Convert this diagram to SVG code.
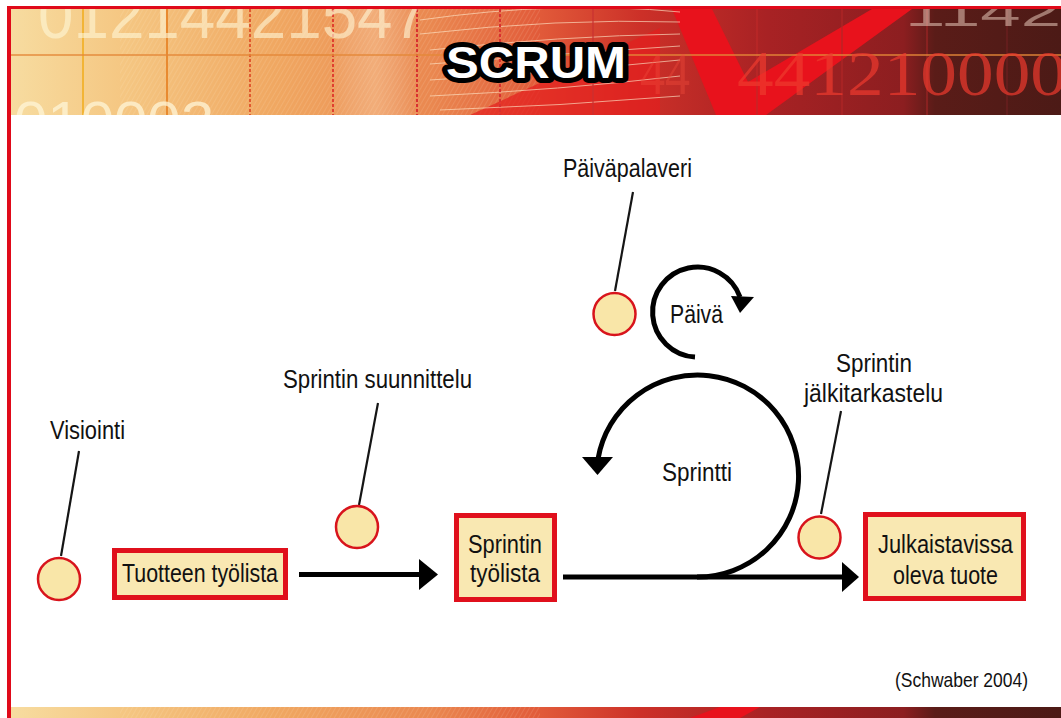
<svg xmlns="http://www.w3.org/2000/svg" width="1061" height="718" viewBox="0 0 1061 718">
  <defs>
    <style>
      .lbl { font-family: "Liberation Sans", Arial, sans-serif; font-size: 25px; fill: #111111; }
      .small { font-family: "Liberation Sans", Arial, sans-serif; font-size: 21px; fill: #111111; }
      .box { fill: #f9e8b2; stroke: #e0101c; stroke-width: 5; }
      .evt { fill: #f9e6a8; stroke: #d8141c; stroke-width: 2.5; }
      .lead { stroke: #151515; stroke-width: 2.2; fill: none; }
      .flow { stroke: #000; stroke-width: 5; fill: none; }
      .head { fill: #000; }
      .digits { font-family: "Liberation Sans", Arial, sans-serif; }
      .serifdigits { font-family: "Liberation Serif", "Times New Roman", serif; }
    </style>
    <linearGradient id="bannerGrad" x1="0" y1="0" x2="1" y2="0">
      <stop offset="0" stop-color="#f7dca0"/>
      <stop offset="0.1" stop-color="#f5c884"/>
      <stop offset="0.25" stop-color="#f0a862"/>
      <stop offset="0.4" stop-color="#ea8850"/>
      <stop offset="0.5" stop-color="#e25c3a"/>
      <stop offset="0.6" stop-color="#cc3028"/>
      <stop offset="0.72" stop-color="#a82224"/>
      <stop offset="0.85" stop-color="#8c1e20"/>
      <stop offset="0.88" stop-color="#5a1c18"/>
      <stop offset="1" stop-color="#4c1a16"/>
    </linearGradient>
    <linearGradient id="beam" x1="0" y1="0" x2="1" y2="0">
      <stop offset="0" stop-color="#ffffff" stop-opacity="0"/>
      <stop offset="0.5" stop-color="#ffe8c8" stop-opacity="0.3"/>
      <stop offset="1" stop-color="#ffffff" stop-opacity="0"/>
    </linearGradient>
    <pattern id="hatch" width="4" height="4" patternUnits="userSpaceOnUse" patternTransform="rotate(30)">
      <line x1="0" y1="0" x2="0" y2="4" stroke="#fff6e0" stroke-width="0.8"/>
    </pattern>
    <clipPath id="topClip"><rect x="11" y="9" width="1050" height="106"/></clipPath>
    <clipPath id="botClip"><rect x="11" y="707" width="1050" height="11"/></clipPath>
  </defs>

  <rect width="1061" height="718" fill="#ffffff"/>

  <!-- header banner -->
  <g id="banner" clip-path="url(#topClip)">
    <rect x="11" y="9" width="1050" height="106" fill="url(#bannerGrad)"/>
    <rect x="330" y="9" width="90" height="106" fill="url(#beam)"/>
    <rect x="120" y="9" width="420" height="106" fill="url(#hatch)" opacity="0.3"/>
    <polygon points="470,115 660,115 660,28" fill="#e41e1e" opacity="0.7"/>
    <!-- check stroke -->
    <polygon points="672,9 712,9 748,82 872,9 912,9 766,115 716,115" fill="#e8121c"/>
    <!-- swept light lines -->
    <g stroke="#ffe6c8" stroke-width="1" fill="none" opacity="0.65">
      <path d="M420 20 Q560 0 680 12"/>
      <path d="M420 34 Q560 18 680 22"/>
      <path d="M430 50 Q560 36 680 34"/>
      <path d="M430 64 Q560 54 680 46"/>
      <path d="M430 80 Q560 72 680 60"/>
      <path d="M430 96 Q560 90 680 76"/>
      <path d="M440 110 Q560 106 680 96"/>
    </g>
    <!-- grid -->
    <g fill="none" stroke-width="2">
      <line x1="83" y1="9" x2="83" y2="115" stroke="#f2b436"/>
      <line x1="167" y1="9" x2="167" y2="115" stroke="#e88a30"/>
      <line x1="250" y1="9" x2="250" y2="115" stroke="#e05a30" stroke-dasharray="3 2"/>
      <line x1="333" y1="9" x2="333" y2="115" stroke="#e04030" stroke-dasharray="3 2"/>
      <line x1="417" y1="9" x2="417" y2="115" stroke="#d83030" stroke-dasharray="3 2"/>
      <line x1="500" y1="9" x2="500" y2="115" stroke="#d83030" stroke-dasharray="3 2"/>
      <line x1="593" y1="9" x2="593" y2="115" stroke="#c83030" opacity="0.6"/>
      <line x1="757" y1="9" x2="757" y2="115" stroke="#c02828" opacity="0.6"/>
      <line x1="842" y1="9" x2="842" y2="115" stroke="#b02626" opacity="0.6"/>
      <line x1="927" y1="9" x2="927" y2="115" stroke="#a02424" opacity="0.6"/>
      <line x1="1007" y1="9" x2="1007" y2="115" stroke="#702020" opacity="0.6"/>
      <line x1="11" y1="55" x2="1061" y2="55" stroke="#e48838" opacity="0.7"/>
    </g>
    <!-- number strip -->
    <text class="digits" x="38" y="38" font-size="66" fill="#fff8d8" opacity="0.6" textLength="390" lengthAdjust="spacingAndGlyphs">01214421547</text>
    <text class="digits" x="14" y="140" font-size="56" fill="#fff6d8" opacity="0.75" textLength="200" lengthAdjust="spacingAndGlyphs">010002</text>
    <text class="serifdigits" x="640" y="94" font-size="62" fill="#f04a3a" opacity="0.4" textLength="50" lengthAdjust="spacingAndGlyphs">44</text>
    <text class="serifdigits" x="737" y="95" font-size="64" fill="#ee3a2e" opacity="0.7" textLength="330" lengthAdjust="spacingAndGlyphs">441210000</text>
    <text class="digits" x="905" y="26" font-size="40" fill="#f4d8c8" opacity="0.5" textLength="156" lengthAdjust="spacingAndGlyphs">1142</text>
    <!-- title -->
    <text x="446" y="78" font-family="'Liberation Sans', Arial, sans-serif" font-weight="bold" font-size="44" fill="#ffffff" stroke="#000000" stroke-width="10" stroke-linejoin="round" paint-order="stroke" textLength="180" lengthAdjust="spacingAndGlyphs">SCRUM</text>
  </g>

  <!-- footer strip -->
  <g id="footer" clip-path="url(#botClip)">
    <rect x="11" y="707" width="1050" height="11" fill="url(#bannerGrad)"/>
    <rect x="120" y="707" width="420" height="11" fill="url(#hatch)" opacity="0.3"/>
    <polygon points="690,718 720,707 760,707 740,718" fill="#e8121c"/>
  </g>

  <!-- frame -->
  <rect x="7" y="6" width="1054" height="3" fill="#e00a1a"/>
  <rect x="7" y="6" width="4" height="712" fill="#e00a1a"/>

  <!-- connectors -->
  <g id="connectors">
    <line class="flow" x1="299" y1="574.5" x2="421" y2="574.5"/>
    <polygon class="head" points="419,559 419,590 438,574.5"/>
    <line class="flow" x1="563" y1="577" x2="845" y2="577"/>
    <polygon class="head" points="842,562 842,592 859,577"/>
    <path class="flow" d="M 697 577 A 101 101 0 1 0 598 459"/>
    <polygon class="head" points="582,457 613,457 597.5,475"/>
    <path class="flow" d="M 695 357 A 45 45 0 1 1 740 297" stroke-width="4"/>
    <polygon class="head" points="731,296 754,297 740,313"/>
    <line class="lead" x1="79" y1="451" x2="61" y2="556"/>
    <line class="lead" x1="378" y1="403" x2="359" y2="505"/>
    <line class="lead" x1="633" y1="192" x2="615" y2="291"/>
    <line class="lead" x1="841" y1="411" x2="821" y2="514"/>
  </g>

  <!-- events -->
  <g id="visiointi">
    <circle class="evt" cx="59" cy="579" r="21"/>
    <text class="lbl" x="50" y="439" textLength="75" lengthAdjust="spacingAndGlyphs">Visiointi</text>
  </g>
  <g id="sprintin-suunnittelu">
    <circle class="evt" cx="357" cy="527" r="21"/>
    <text class="lbl" x="283" y="388" textLength="189" lengthAdjust="spacingAndGlyphs">Sprintin suunnittelu</text>
  </g>
  <g id="paivapalaveri">
    <circle class="evt" cx="614.5" cy="314" r="21"/>
    <text class="lbl" x="563" y="177" textLength="129" lengthAdjust="spacingAndGlyphs">Päiväpalaveri</text>
  </g>
  <g id="sprintin-jalkitarkastelu">
    <circle class="evt" cx="819.5" cy="537.5" r="21"/>
    <text class="lbl" x="836" y="372" textLength="76" lengthAdjust="spacingAndGlyphs">Sprintin</text>
    <text class="lbl" x="804" y="402" textLength="139" lengthAdjust="spacingAndGlyphs">jälkitarkastelu</text>
  </g>

  <!-- cycle labels -->
  <g id="paiva">
    <text class="lbl" x="670" y="323" textLength="53" lengthAdjust="spacingAndGlyphs">Päivä</text>
  </g>
  <g id="sprintti">
    <text class="lbl" x="662" y="481" textLength="70" lengthAdjust="spacingAndGlyphs">Sprintti</text>
  </g>

  <!-- artefacts -->
  <g id="tuotteen-tyolista">
    <rect class="box" x="114.5" y="550.5" width="171" height="47"/>
    <text class="lbl" x="122" y="582" textLength="156" lengthAdjust="spacingAndGlyphs">Tuotteen työlista</text>
  </g>
  <g id="sprintin-tyolista">
    <rect class="box" x="456.5" y="515.5" width="98" height="84"/>
    <text class="lbl" x="468" y="553" textLength="74" lengthAdjust="spacingAndGlyphs">Sprintin</text>
    <text class="lbl" x="470" y="582" textLength="70" lengthAdjust="spacingAndGlyphs">työlista</text>
  </g>
  <g id="julkaistavissa">
    <rect class="box" x="865.5" y="514.5" width="158" height="84"/>
    <text class="lbl" x="878" y="553" textLength="135" lengthAdjust="spacingAndGlyphs">Julkaistavissa</text>
    <text class="lbl" x="893" y="584" textLength="105" lengthAdjust="spacingAndGlyphs">oleva tuote</text>
  </g>

  <text id="source" class="small" x="895" y="687" textLength="133" lengthAdjust="spacingAndGlyphs">(Schwaber 2004)</text>
</svg>
